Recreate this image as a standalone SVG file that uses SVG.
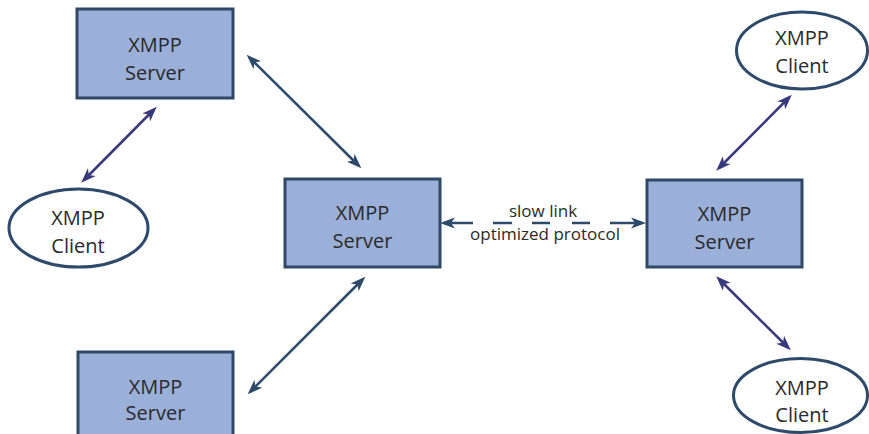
<svg xmlns="http://www.w3.org/2000/svg" width="869" height="434" viewBox="0 0 869 434">
<style>
.srv{fill:#9bb0d8;stroke:#2e4866;stroke-width:3}
.cli{fill:#ffffff;stroke:#2e4a6b;stroke-width:3}
.lbl{font-family:"Open Sans","Liberation Sans",sans-serif;font-size:20px;fill:#2a2a2a;text-anchor:middle}
.sm{font-family:"Open Sans","Liberation Sans",sans-serif;font-size:17px;fill:#2a2a2a;text-anchor:middle}
.a1{stroke:#2c4a6a;stroke-width:2.5;fill:none}
.a2{stroke:#38387c;stroke-width:2.5;fill:none}
</style>
<defs>
<marker id="h1" markerUnits="userSpaceOnUse" markerWidth="16" markerHeight="12" refX="11" refY="5.5" orient="auto-start-reverse" viewBox="0 0 16 11">
<path d="M0,0 L15,5.5 L0,11 L4,5.5 Z" fill="#2c4a6a"/>
</marker>
<marker id="h2" markerUnits="userSpaceOnUse" markerWidth="16" markerHeight="12" refX="11" refY="5.5" orient="auto-start-reverse" viewBox="0 0 16 11">
<path d="M0,0 L15,5.5 L0,11 L4,5.5 Z" fill="#38387c"/>
</marker>
</defs>
<g id="connectors">
<line class="a1" x1="249.5" y1="57.5" x2="358.5" y2="165.5" marker-start="url(#h1)" marker-end="url(#h1)"/>
<line class="a2" x1="84" y1="180" x2="154" y2="109.5" marker-start="url(#h2)" marker-end="url(#h2)"/>
<line class="a1" x1="362.5" y1="279.5" x2="250.5" y2="391.5" marker-start="url(#h1)" marker-end="url(#h1)"/>
<line class="a2" x1="719" y1="168" x2="789" y2="97.5" marker-start="url(#h2)" marker-end="url(#h2)"/>
<line class="a2" x1="719" y1="279" x2="788" y2="347.5" marker-start="url(#h2)" marker-end="url(#h2)"/>
<line class="a1" x1="444" y1="223" x2="642" y2="223" stroke-dasharray="29 20 19 20 18 22 18 20 32" marker-start="url(#h1)" marker-end="url(#h1)"/>
<text class="sm" x="543" y="217">slow link</text>
<text class="sm" x="545" y="240">optimized protocol</text>
</g>
<g id="server-top-left">
<rect class="srv" x="77" y="9" width="156" height="89"/>
<text class="lbl" x="155" y="52">XMPP</text>
<text class="lbl" x="155" y="80">Server</text>
</g>
<g id="server-middle">
<rect class="srv" x="285" y="179" width="155" height="88"/>
<text class="lbl" x="362.5" y="220">XMPP</text>
<text class="lbl" x="362.5" y="248">Server</text>
</g>
<g id="server-right">
<rect class="srv" x="647" y="180" width="155" height="87"/>
<text class="lbl" x="724.5" y="221">XMPP</text>
<text class="lbl" x="724.5" y="249">Server</text>
</g>
<g id="server-bottom-left">
<rect class="srv" x="78" y="352" width="155" height="95"/>
<text class="lbl" x="155.5" y="394">XMPP</text>
<text class="lbl" x="155.5" y="420">Server</text>
</g>
<g id="client-left">
<ellipse class="cli" cx="78.5" cy="228" rx="69.5" ry="39"/>
<text class="lbl" x="78" y="225">XMPP</text>
<text class="lbl" x="78" y="253">Client</text>
</g>
<g id="client-top-right">
<ellipse class="cli" cx="802" cy="50.5" rx="65.5" ry="38.5"/>
<text class="lbl" x="802" y="45">XMPP</text>
<text class="lbl" x="802" y="73">Client</text>
</g>
<g id="client-bottom-right">
<ellipse class="cli" cx="800.5" cy="395.5" rx="67" ry="37"/>
<text class="lbl" x="802" y="395">XMPP</text>
<text class="lbl" x="802" y="422">Client</text>
</g>
</svg>
